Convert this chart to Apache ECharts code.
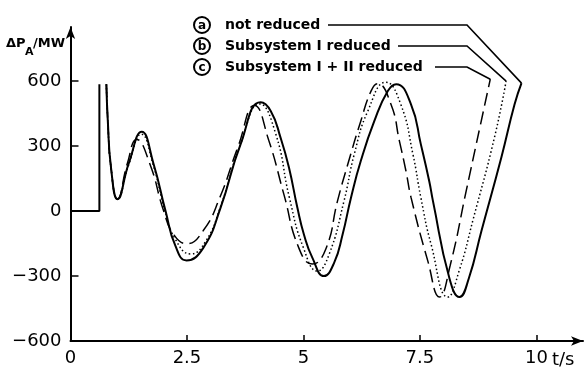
<!DOCTYPE html>
<html>
<head>
<meta charset="utf-8">
<script src="https://cdn.jsdelivr.net/npm/echarts@6/dist/echarts.min.js"></script>
<style>
	html, body { margin: 0; padding: 0; background: #fff; }
	#chart { width: 586px; height: 370px; }
</style>
</head>
<body>
<div id="chart"></div>
<script>
// tick labels
const xTicks = [0, 2.5, 5, 7.5, 10]
const yTicks = [-600, -300, 0, 300, 600]

// legend entries (a, b, c)
const legendNames = ['not reduced', 'Subsystem I reduced', 'Subsystem I + II reduced']
const legendKeys = ['a', 'b', 'c']

// step at switching time
const stepPart = [[0, 0], [0.62, 0], [0.62, 586]]

// a: not reduced (solid)
const notReduced = [
	[0.77, 586], [0.80, 420], [0.87, 200], [1.01, 55], [1.25, 220], [1.53, 366],
	[1.78, 220], [2.04, 0], [2.25, -160], [2.49, -228], [2.85, -170], [3.22, 15], [3.65, 308],
	[4.08, 502], [4.30, 461], [4.51, 338], [4.69, 200], [4.87, 15], [5.01, -108], [5.19, -215],
	[5.44, -300], [5.66, -238], [5.84, -108], [6.02, 62], [6.23, 231], [6.52, 415], [6.81, 554],
	[6.99, 586], [7.31, 492], [7.52, 308], [7.70, 138], [7.78, 46], [8.13, -308], [8.35, -397],
	[8.55, -310], [8.82, -92], [9.25, 250], [9.53, 492], [9.68, 591],
]

// b: Subsystem I reduced (dotted)
const subsysIReduced = [
	[0.77, 586], [0.80, 420], [0.87, 200], [1.01, 55], [1.25, 215], [1.52, 355],
	[1.78, 210], [2.03, 0], [2.25, -130], [2.58, -198], [2.9, -140], [3.22, 20], [3.65, 310],
	[4.06, 495], [4.40, 360], [4.70, 60], [5.00, -170], [5.30, -277], [5.55, -200], [5.87, 46],
	[6.09, 262], [6.38, 461], [6.77, 595], [7.09, 492], [7.35, 262], [7.52, 62], [7.74, -154],
	[8.10, -397], [8.35, -270], [8.64, -40], [9.10, 340], [9.35, 600],
]

// c: Subsystem I + II reduced (dashed)
const subsysI2Reduced = [
	[0.77, 586], [0.80, 420], [0.87, 200], [1.01, 55], [1.22, 220], [1.42, 331],
	[1.70, 220], [2.00, 0], [2.22, -110], [2.50, -151], [2.85, -90], [3.20, 60], [3.60, 300],
	[3.95, 488], [4.25, 330], [4.58, 77], [4.90, -170], [5.19, -245], [5.48, -175], [5.73, 46],
	[5.95, 215], [6.23, 415], [6.45, 554], [6.59, 588], [6.88, 492], [7.06, 323], [7.20, 185],
	[7.31, 62], [7.67, -231], [7.92, -397], [8.15, -250], [8.50, 100], [8.80, 400], [9.01, 609],
]

const FONT = 'DejaVu Sans'
const chart = echarts.init(document.getElementById('chart'), null, { renderer: 'canvas' })

const curveStyles = [
	{ data: notReduced, width: 2, type: 'solid' },
	{ data: subsysIReduced, width: 1.5, type: [1.5, 2.5] },
	{ data: subsysI2Reduced, width: 1.5, type: [13, 6] },
]

chart.setOption({
	animation: false,
	backgroundColor: '#fff',
	grid: { left: 70.5, right: 3, top: 27, bottom: 29 },
	xAxis: {
		type: 'value',
		min: 0,
		max: 11,
		splitLine: { show: false },
		axisLine: {
			onZero: false,
			lineStyle: { color: '#000', width: 2 },
			symbol: ['none', 'arrow'],
			symbolSize: [7, 12],
		},
		axisTick: { inside: true, length: 6, customValues: xTicks.slice(1), lineStyle: { color: '#000', width: 1.5 } },
		axisLabel: {
			customValues: xTicks,
			margin: 8,
			color: '#000',
			fontFamily: FONT,
			fontSize: 18,
			formatter: v => String(v),
		},
	},
	yAxis: {
		type: 'value',
		min: -600,
		max: 850,
		splitLine: { show: false },
		axisLine: {
			onZero: false,
			lineStyle: { color: '#000', width: 2 },
			symbol: ['none', 'arrow'],
			symbolSize: [7, 12],
		},
		axisTick: { inside: true, length: 8, customValues: yTicks, lineStyle: { color: '#000', width: 1.5 } },
		axisLabel: {
			customValues: yTicks,
			margin: 9,
			color: '#000',
			fontFamily: FONT,
			fontSize: 18,
			formatter: v => String(v).replace('-', '\u2212'),
		},
	},
	series: [
		{
			type: 'line',
			data: stepPart,
			showSymbol: false,
			silent: true,
			lineStyle: { color: '#000', width: 2 },
		},
	].concat(curveStyles.map(s => ({
		type: 'line',
		data: s.data,
		smooth: 0.5,
		showSymbol: false,
		silent: true,
		lineStyle: { color: '#000', width: s.width, type: s.type },
	}))),
})

// legend: circled letters, labels and leader lines to the curve ends
const legendY = [25, 46, 67]
const lineStartX = [328, 398, 435]
const graphics = []
legendNames.forEach((name, i) => {
	graphics.push({
		type: 'circle',
		shape: { cx: 202, cy: legendY[i], r: 8 },
		style: { fill: 'none', stroke: '#000', lineWidth: 2 },
	})
	graphics.push({
		type: 'text',
		x: 202, y: legendY[i] + 0.5,
		style: { text: legendKeys[i], font: 'bold 12px ' + FONT, fill: '#000', align: 'center', verticalAlign: 'middle' },
	})
	graphics.push({
		type: 'text',
		x: 225, y: legendY[i],
		style: { text: name, font: 'bold 14px ' + FONT, fill: '#000', align: 'left', verticalAlign: 'middle' },
	})
	const data = curveStyles[i].data
	const end = chart.convertToPixel({ seriesIndex: i + 1 }, data[data.length - 1])
	graphics.push({
		type: 'polyline',
		shape: { points: [[lineStartX[i], legendY[i]], [467, legendY[i]], end] },
		style: { fill: 'none', stroke: '#000', lineWidth: 1.6 },
	})
})

// y axis title and x unit
graphics.push(
	{ type: 'text', x: 6, y: 50, style: { text: '\u0394P', font: 'bold 13px ' + FONT, fill: '#000', verticalAlign: 'bottom' } },
	{ type: 'text', x: 25, y: 58, style: { text: 'A', font: 'bold 11px ' + FONT, fill: '#000', verticalAlign: 'bottom' } },
	{ type: 'text', x: 33, y: 50, style: { text: '/MW', font: 'bold 13px ' + FONT, fill: '#000', verticalAlign: 'bottom' } },
	{ type: 'text', x: 552, y: 360, style: { text: 't/s', font: '18px ' + FONT, fill: '#000', verticalAlign: 'middle' } }
)

chart.setOption({ graphic: graphics })
</script>
</body>
</html>
